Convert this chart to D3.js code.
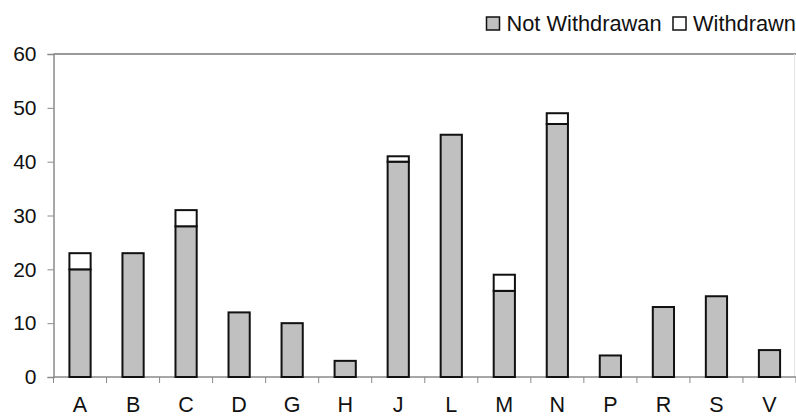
<!DOCTYPE html>
<html>
<head>
<meta charset="utf-8">
<script src="https://cdn.jsdelivr.net/npm/d3@7"></script>
<style>
  html, body { margin: 0; padding: 0; background: #fff; }
  svg { display: block; font-family: "Liberation Sans", Arial, sans-serif; }
</style>
</head>
<body>
<svg id="chart" width="796" height="417"></svg>
<script>
// Categories and stacked counts
const categories = ["A", "B", "C", "D", "G", "H", "J", "L", "M", "N", "P", "R", "S", "V"];
const notWithdrawn = [20, 23, 28, 12, 10, 3, 40, 45, 16, 47, 4, 13, 15, 5];
const withdrawn    = [3, 0, 3, 0, 0, 0, 1, 0, 3, 2, 0, 0, 0, 0];
const yTicks = [0, 10, 20, 30, 40, 50, 60];
const seriesNames = ["Not Withdrawan", "Withdrawn"];
const seriesFill = ["#c0c0c0", "#ffffff"];

const svg = d3.select("#chart");
const margin = { left: 53.5, right: 0, top: 54, bottom: 40 };
const W = 796, H = 417;
const plotBottom = H - margin.bottom;

const x = d3.scaleBand()
  .domain(categories)
  .range([margin.left, W - margin.right])
  .paddingInner(0.6)
  .paddingOuter(0.3);

const y = d3.scaleLinear()
  .domain([0, 60])
  .range([plotBottom, margin.top]);

const rows = categories.map((c, i) => ({ cat: c, nw: notWithdrawn[i], w: withdrawn[i] }));
const stacked = d3.stack().keys(["nw", "w"])(rows);

// Plot frame: top border and faint right edge
svg.append("line")
  .attr("x1", margin.left).attr("x2", W)
  .attr("y1", y(60)).attr("y2", y(60))
  .attr("stroke", "#9a9a9a").attr("stroke-width", 2);
svg.append("line")
  .attr("x1", W - 1.5).attr("x2", W - 1.5)
  .attr("y1", y(60)).attr("y2", plotBottom)
  .attr("stroke", "#e4e4e4").attr("stroke-width", 1);

// Y axis
const yAxis = svg.append("g")
  .attr("transform", `translate(${margin.left},0)`)
  .call(d3.axisLeft(y).tickValues(yTicks).tickSize(6).tickPadding(11).tickFormat(d3.format("d")));
yAxis.select(".domain").attr("stroke", "#8a8a8a").attr("stroke-width", 1.5);
yAxis.selectAll(".tick line").attr("stroke", "#8a8a8a").attr("stroke-width", 1);
yAxis.selectAll("text").attr("font-size", 21).attr("fill", "#111")
  .attr("font-family", "Liberation Sans, Arial, sans-serif");

// X axis: ticks sit between categories
const boundaries = d3.range(categories.length + 1).map(i => margin.left + i * x.step());
const xAxisG = svg.append("g");
xAxisG.append("line")
  .attr("x1", margin.left).attr("x2", W)
  .attr("y1", plotBottom).attr("y2", plotBottom)
  .attr("stroke", "#8a8a8a").attr("stroke-width", 1.5);
xAxisG.selectAll("line.tk").data(boundaries).join("line")
  .attr("class", "tk")
  .attr("x1", d => d).attr("x2", d => d)
  .attr("y1", plotBottom).attr("y2", plotBottom + 6)
  .attr("stroke", "#8a8a8a").attr("stroke-width", 1);
xAxisG.selectAll("text").data(categories).join("text")
  .attr("x", d => x(d) + x.bandwidth() / 2)
  .attr("y", plotBottom + 35)
  .attr("text-anchor", "middle")
  .attr("font-size", 21.5)
  .attr("fill", "#111")
  .text(d => d);

// Stacked bars
svg.append("g").selectAll("g").data(stacked).join("g")
  .attr("fill", (d, i) => seriesFill[i])
  .selectAll("rect")
  .data(d => d.filter(s => s[1] - s[0] > 0))
  .join("rect")
  .attr("x", d => x(d.data.cat))
  .attr("width", x.bandwidth())
  .attr("y", d => y(d[1]))
  .attr("height", d => y(d[0]) - y(d[1]))
  .attr("stroke", "#111")
  .attr("stroke-width", 2);

// Legend
const legendItems = [
  { name: seriesNames[0], fill: seriesFill[0], sx: 486.5 },
  { name: seriesNames[1], fill: seriesFill[1], sx: 673 }
];
const lg = svg.append("g");
legendItems.forEach(it => {
  lg.append("rect")
    .attr("x", it.sx).attr("y", 17)
    .attr("width", 13).attr("height", 13)
    .attr("fill", it.fill)
    .attr("stroke", "#111").attr("stroke-width", 1.5);
  lg.append("text")
    .attr("x", it.sx + 20).attr("y", 30.5)
    .attr("font-size", 21.8)
    .attr("fill", "#111")
    .text(it.name);
});
</script>
</body>
</html>
